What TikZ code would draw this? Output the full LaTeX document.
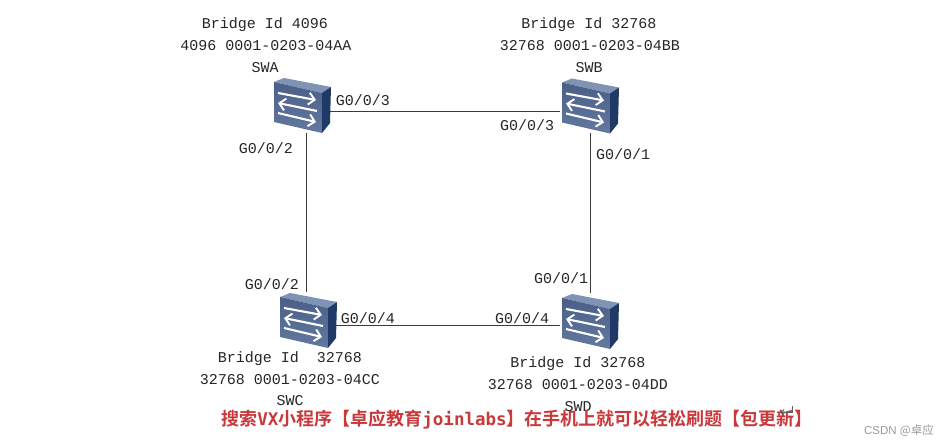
\documentclass[tikz,border=0pt]{standalone}
\usepackage{fontspec}
\setmonofont{Liberation Mono}
\newfontfamily\cjkbold[BoldFont={Noto Sans CJK SC Bold}]{Noto Sans CJK SC}
\newfontfamily\cjkreg{Noto Sans CJK SC}
\newfontfamily\latinbold{DejaVu Sans Mono Bold}
\newfontfamily\wmlatin{Liberation Sans}
\usetikzlibrary{arrows.meta}
\definecolor{linkc}{HTML}{3A3A3A}
\definecolor{frontc}{HTML}{64799F}
\definecolor{frontd}{HTML}{4A5F88}
\definecolor{topc}{HTML}{7F93B4}
\definecolor{sidec}{HTML}{1F3A66}
\definecolor{redc}{HTML}{C9383B}
\definecolor{markc}{HTML}{606060}
\definecolor{wmc}{HTML}{9A9A9A}
\tikzset{
  x=1pt,y=-1pt,
  swbox/.style={minimum width=57pt,minimum height=55pt,inner sep=0pt,draw=none},
  link/.style={draw=linkc,line width=1pt},
  lbl/.style={font=\ttfamily\fontsize{15}{16}\selectfont,inner sep=0pt,anchor=center,text=black!85},
  wharrow/.style={draw=white,line width=2.1pt,-{Straight Barb[length=6pt,width=12pt,line width=1.9pt]}},
  pics/switchicon/.style={code={
    \fill[topc] (-27,-23) -- (-17,-27) -- (30,-18) -- (21,-12) -- cycle;
    \shade[top color=frontd,bottom color=frontc] (-27,-23) -- (21,-12) -- (21,28) -- (-27,17) -- cycle;
    \fill[sidec] (21,-12) -- (30,-18) -- (29,18) -- (21,28) -- cycle;
    \draw[wharrow] (-23,-12) -- (15,-5);
    \draw[wharrow] (16,6) -- (-23,-2);
    \draw[wharrow] (-23,8) -- (15,17);
  }}
}
\begin{document}
\begin{tikzpicture}
\useasboundingbox (0,0) rectangle (948,446);
\fill[white] (0,0) rectangle (948,446);
\node[swbox] (swa) at (301,105) {};
\node[swbox] (swb) at (589,105.5) {};
\node[swbox] (swc) at (307,320) {};
\node[swbox] (swd) at (589,321) {};
\pic at (swa) {switchicon};
\pic at (swb) {switchicon};
\pic at (swc) {switchicon};
\pic at (swd) {switchicon};
\draw[link] ([yshift=-7pt]swa.east) -- ([yshift=-6.5pt]swb.west);
\draw[link] ([xshift=5pt]swa.south) -- ([xshift=-1pt]swc.north);
\draw[link] ([xshift=1pt]swb.south) -- ([xshift=1pt]swd.north);
\draw[link] ([yshift=-6pt]swc.east) -- ([yshift=-5pt]swd.west);
\node[lbl] (a1) at (265,25) {Bridge Id 4096};
\node[lbl] (a2) at (266,46) {4096 0001-0203-04AA};
\node[lbl] (a3) at (265,68) {SWA};
\node[lbl] (b1) at (589,25) {Bridge Id 32768};
\node[lbl] (b2) at (590,46) {32768 0001-0203-04BB};
\node[lbl] (b3) at (589,68) {SWB};
\node[lbl] (c1) at (290,359) {Bridge Id\ \ 32768};
\node[lbl] (c2) at (290,380) {32768 0001-0203-04CC};
\node[lbl] (c3) at (290,401) {SWC};
\node[lbl] (d1) at (578,364) {Bridge Id 32768};
\node[lbl] (d2) at (578,385) {32768 0001-0203-04DD};
\node[lbl] (d3) at (578,407) {SWD};
\node[lbl] (p1) at (363,100) {G0/0/3};
\node[lbl] (p2) at (527,125) {G0/0/3};
\node[lbl] (p3) at (266,148) {G0/0/2};
\node[lbl] (p4) at (623,154) {G0/0/1};
\node[lbl] (p5) at (272,284) {G0/0/2};
\node[lbl] (p6) at (561,278) {G0/0/1};
\node[lbl] (p7) at (368,318) {G0/0/4};
\node[lbl] (p8) at (522,318) {G0/0/4};
\node[inner sep=0pt,text=redc,anchor=center] (ad) at (517,420)
  {\fontsize{18}{20}\selectfont\cjkbold\bfseries 搜索{\latinbold\fontsize{17.5}{20}\selectfont VX}小程序【卓应教育{\latinbold\fontsize{17.5}{20}\selectfont joinlabs}】在手机上就可以轻松刷题【包更新】};
\coordinate (r1) at (792,406);
\coordinate (r2) at (792,412.5);
\coordinate (r3) at (781,412.5);
\draw[markc,line width=1pt] (r1) -- (r2) -- (r3);
\draw[markc,line width=1pt] (784,409.5) -- (r3) -- (784,415.5);
\node[inner sep=0pt,text=wmc,anchor=center] (wm) at (899,431)
  {\fontsize{11.5}{12}\selectfont\wmlatin CSDN \cjkreg @卓应};
\end{tikzpicture}
\end{document}
